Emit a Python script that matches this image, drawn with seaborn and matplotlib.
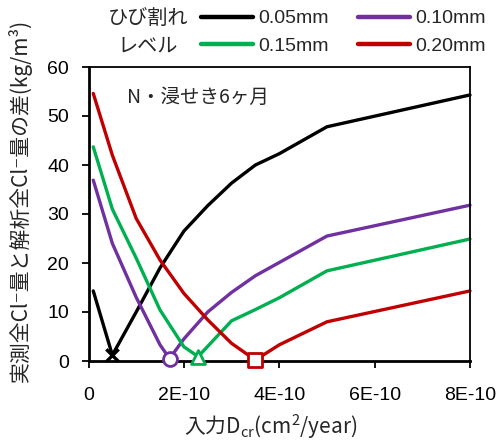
import numpy as np
import pandas as pd
import matplotlib
matplotlib.use("Agg")
import matplotlib.pyplot as plt
import seaborn as sns

# Crack width levels and the difference between measured and analysed total Cl- content
levels = ["0.05mm", "0.10mm", "0.15mm", "0.20mm"]
colors = ["#000000", "#7030A0", "#00B050", "#C00000"]
min_markers = ["x", "o", "^", "s"]

dcr_005 = [0.1e-10, 0.5e-10, 1.0e-10, 1.5e-10, 2.0e-10, 2.5e-10, 3.0e-10, 3.5e-10, 4.0e-10, 5.0e-10, 8.0e-10]
diff_005 = [14.3, 1.2, 10.0, 19.0, 26.5, 31.7, 36.3, 40.0, 42.3, 47.8, 54.3]

dcr_010 = [0.1e-10, 0.5e-10, 1.0e-10, 1.5e-10, 1.7e-10, 2.0e-10, 2.5e-10, 3.0e-10, 3.5e-10, 4.0e-10, 5.0e-10, 8.0e-10]
diff_010 = [36.9, 24.0, 13.0, 3.3, 0.5, 4.5, 10.0, 14.0, 17.4, 20.1, 25.5, 31.8]

dcr_015 = [0.1e-10, 0.5e-10, 1.0e-10, 1.5e-10, 2.0e-10, 2.3e-10, 2.5e-10, 3.0e-10, 3.5e-10, 4.0e-10, 5.0e-10, 8.0e-10]
diff_015 = [43.7, 31.0, 21.0, 10.4, 2.9, 0.9, 3.0, 8.2, 10.5, 12.9, 18.4, 24.9]

dcr_020 = [0.1e-10, 0.5e-10, 1.0e-10, 1.5e-10, 2.0e-10, 2.5e-10, 3.0e-10, 3.5e-10, 4.0e-10, 5.0e-10, 8.0e-10]
diff_020 = [54.6, 42.0, 29.1, 20.6, 13.8, 8.4, 3.6, 0.2, 3.3, 8.0, 14.3]

x_ticks = [0, 2e-10, 4e-10, 6e-10, 8e-10]
x_tick_labels = ["0", "2E-10", "4E-10", "6E-10", "8E-10"]
y_ticks = [0, 10, 20, 30, 40, 50, 60]

series_x = [dcr_005, dcr_010, dcr_015, dcr_020]
series_y = [diff_005, diff_010, diff_015, diff_020]

sns.set_style("ticks")
jp = ["Noto Sans CJK JP", "DejaVu Sans"]
plt.rcParams["font.family"] = ["Liberation Sans", "Noto Sans CJK JP", "DejaVu Sans"]
plt.rcParams["mathtext.fontset"] = "custom"
plt.rcParams["mathtext.rm"] = "Noto Sans CJK JP"
plt.rcParams["mathtext.it"] = "Noto Sans CJK JP"

W, H = 503, 443
fig = plt.figure(figsize=(W / 100, H / 100), dpi=100)
ax = fig.add_axes([88.5 / W, 82 / H, 381.5 / W, 294 / H])

handles = []
for lvl, col, mk, xs, ys in zip(levels, colors, min_markers, series_x, series_y):
    df = pd.DataFrame({"Dcr": xs, "diff": ys})
    sns.lineplot(data=df, x="Dcr", y="diff", color=col, linewidth=2.4, sort=False,
                 ax=ax, clip_on=False, label=lvl, legend=False)
    handles.append(ax.lines[-1])
    i_min = int(np.argmin(ys))
    mdf = df.iloc[[i_min]]
    if mk == "x":
        sns.scatterplot(data=mdf, x="Dcr", y="diff", marker="x", s=80, color=col,
                        linewidth=2.4, ax=ax, clip_on=False, zorder=5, legend=False)
    else:
        sns.scatterplot(data=mdf, x="Dcr", y="diff", marker=mk, s=100, facecolor="white",
                        edgecolor=col, linewidth=2.0, ax=ax, clip_on=False, zorder=5,
                        legend=False)

ax.set_xlim(0, 8e-10)
ax.set_ylim(0, 60)
ax.set_xticks(x_ticks)
ax.set_xticklabels(x_tick_labels)
ax.set_yticks(y_ticks)
ax.tick_params(axis="both", direction="out", length=5, width=1.3, labelsize=14,
               colors="black")
ax.tick_params(axis="y", pad=9)
ax.tick_params(axis="x", pad=14)
for side in ["left", "bottom"]:
    ax.spines[side].set_linewidth(2.0)
for side in ["top", "right"]:
    ax.spines[side].set_visible(True)
    ax.spines[side].set_linewidth(1.3)
for s in ax.spines.values():
    s.set_color("black")
ax.set_xlabel("")
ax.set_ylabel("")

ax.text(127 / W, 1 - 97 / H, "N・浸せき6ヶ月", transform=fig.transFigure,
        fontsize=14, family=jp, va="center", ha="left")

fig.text(20 / W, 1 - 200 / H, "実測全Cl⁻量と解析全Cl⁻量の差(kg/m³)", rotation=90,
         fontsize=15, family=jp, va="center", ha="center")
fig.text(271 / W, 1 - 427 / H, r"入力D$_{\mathrm{cr}}$(cm$^{2}$/year)",
         fontsize=15, family=jp, va="center", ha="center")

fig.text(148 / W, 1 - 18 / H, "ひび割れ", fontsize=14.5, family=jp, va="center", ha="center")
fig.text(148 / W, 1 - 46 / H, "レベル", fontsize=14.5, family=jp, va="center", ha="center")

order = [0, 2, 1, 3]
leg = fig.legend([handles[i] for i in order], [levels[i] for i in order],
                 ncol=2, loc="upper left", bbox_to_anchor=(193 / W, 1 - 2 / H),
                 frameon=False, fontsize=14, handlelength=2.7, handletextpad=0.25,
                 columnspacing=1.5, labelspacing=0.5, borderaxespad=0)
for line in leg.get_lines():
    line.set_linewidth(3.2)

fig.savefig("out.png", dpi=100)
